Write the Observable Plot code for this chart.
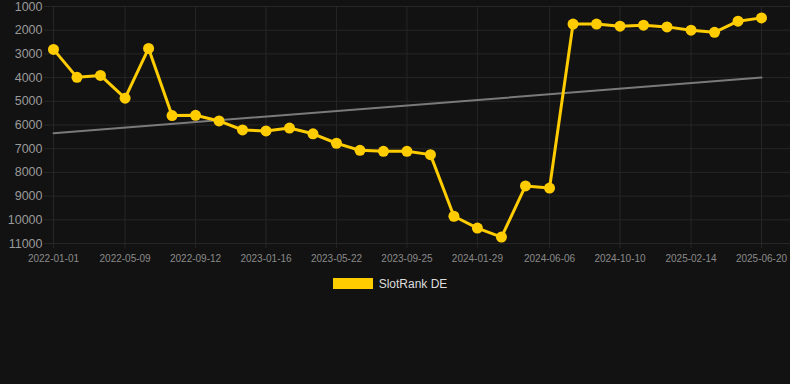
<!DOCTYPE html>
<html>
<head>
<meta charset="utf-8">
<script src="https://cdn.jsdelivr.net/npm/d3@7"></script>
<script src="https://cdn.jsdelivr.net/npm/@observablehq/plot@0.6"></script>
<style>
  html, body { margin: 0; padding: 0; background: #121212; }
  body { width: 790px; height: 384px; overflow: hidden; font-family: Arial, "Liberation Sans", sans-serif; }
  #legend { display: flex; justify-content: center; align-items: center; margin-top: 8px; height: 11px; padding-right: 10px; }
  #legend .sw { width: 40px; height: 11px; background: #ffcc00; margin-right: 6px; }
  #legend .lb { font-size: 12px; color: #dddddd; }
</style>
</head>
<body>
<div id="chart"></div>
<div id="legend"><div class="sw"></div><div class="lb">SlotRank DE</div></div>
<script>
const dates = [
  "2022-01-01","2022-02-12","2022-03-26","2022-05-09","2022-06-20","2022-08-01",
  "2022-09-12","2022-10-24","2022-12-05","2023-01-16","2023-02-27","2023-04-10",
  "2023-05-22","2023-07-03","2023-08-14","2023-09-25","2023-11-06","2023-12-18",
  "2024-01-29","2024-03-12","2024-04-24","2024-06-06","2024-07-18","2024-08-29",
  "2024-10-10","2024-11-21","2025-01-02","2025-02-14","2025-03-28","2025-05-09",
  "2025-06-20"
];
const ranks = [
  2810, 3990, 3910, 4870, 2770, 5600,
  5590, 5830, 6210, 6250, 6130, 6370,
  6770, 7070, 7110, 7110, 7250, 9850,
  10350, 10730, 8570, 8660, 1740, 1740,
  1830, 1790, 1860, 2000, 2090, 1620,
  1480
];
const tickDates = [
  "2022-01-01","2022-05-09","2022-09-12","2023-01-16","2023-05-22","2023-09-25",
  "2024-01-29","2024-06-06","2024-10-10","2025-02-14","2025-06-20"
];
const yTicks = [1000, 2000, 3000, 4000, 5000, 6000, 7000, 8000, 9000, 10000, 11000];
const trendDates = ["2022-01-01", "2025-06-20"];
const trendValues = [6350, 4000];

const parse = d3.utcParse("%Y-%m-%d");
const data = dates.map((d, i) => ({date: parse(d), rank: ranks[i]}));
const trend = trendDates.map((d, i) => ({date: parse(d), rank: trendValues[i]}));
const xt = tickDates.map(parse);

const gridColor = "#262626";
const plot = Plot.plot({
  width: 790,
  height: 270,
  marginLeft: 44,
  marginRight: 0,
  marginTop: 6,
  marginBottom: 27,
  style: {background: "#121212", fontFamily: "Arial, 'Liberation Sans', sans-serif"},
  x: {type: "utc", domain: [xt[0], xt[xt.length - 1]], range: [53, 761], label: null},
  y: {domain: [1000, 11000], reverse: true, label: null},
  marks: [
    Plot.gridY(yTicks, {stroke: gridColor, strokeOpacity: 1}),
    Plot.ruleX(xt, {stroke: gridColor, y1: 1000, y2: 11000}),
    Plot.axisX(xt, {tickFormat: d3.utcFormat("%Y-%m-%d"), tickSize: 5, stroke: gridColor, tickPadding: 6, fontSize: 10, fill: "#8a8a8a", label: null}),
    Plot.axisY(yTicks, {tickSize: 0, tickPadding: 2, fontSize: 12.5, fill: "#9a9a9a", tickFormat: d => String(d), label: null}),
    Plot.line(trend, {x: "date", y: "rank", stroke: "#7a7a7a", strokeWidth: 2}),
    Plot.line(data, {x: "date", y: "rank", stroke: "#ffcc00", strokeWidth: 3}),
    Plot.dot(data, {x: "date", y: "rank", r: 5.5, fill: "#ffcc00", stroke: "none"})
  ]
});
document.getElementById("chart").appendChild(plot);
</script>
</body>
</html>
